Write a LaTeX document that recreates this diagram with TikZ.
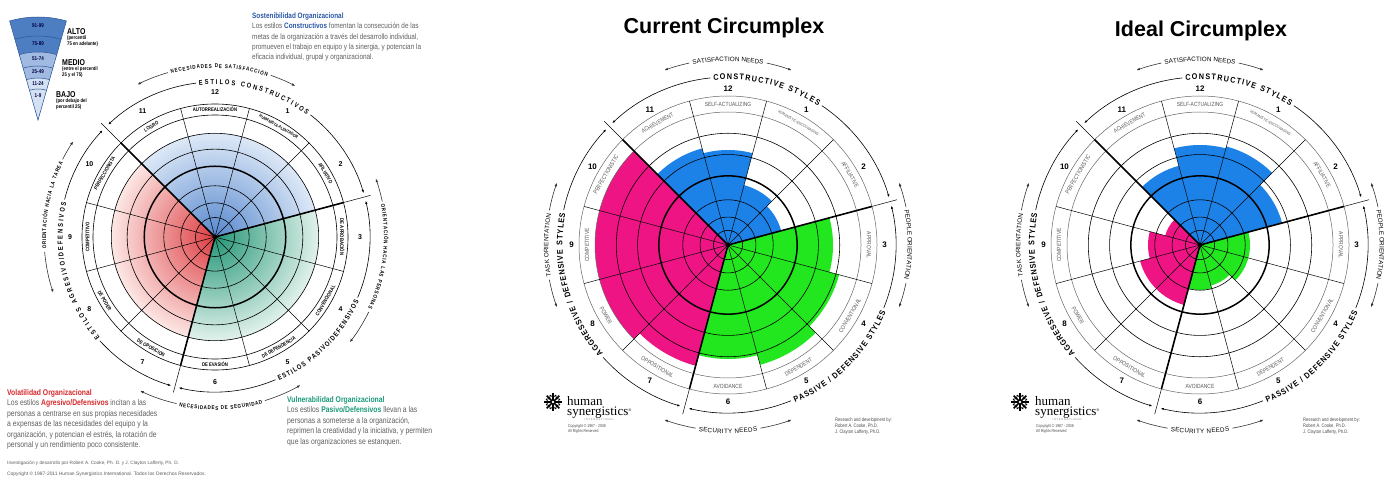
\documentclass[tikz,border=0pt]{standalone}
\usepackage{fontspec}
\setmainfont{Liberation Sans}
\newfontfamily\narrowfont{Liberation Sans}[FakeStretch=0.82]
\newfontfamily\stylefont{Liberation Sans}[FakeStretch=0.88]
\newfontfamily\logofont{Liberation Serif}
\usetikzlibrary{arrows.meta,decorations.text}

\definecolor{curblue}{RGB}{28,130,232}
\definecolor{curgreen}{RGB}{34,230,30}
\definecolor{curpink}{RGB}{238,20,132}
\definecolor{bluein}{RGB}{86,135,205}
\definecolor{blueout}{RGB}{222,233,247}
\definecolor{redin}{RGB}{221,60,66}
\definecolor{redout}{RGB}{252,232,229}
\definecolor{greenin}{RGB}{36,150,118}
\definecolor{greenout}{RGB}{226,242,236}
\definecolor{legdark}{RGB}{78,126,194}
\definecolor{legmid}{RGB}{160,186,226}
\definecolor{leglight}{RGB}{212,225,243}
\definecolor{legline}{RGB}{45,85,150}
\definecolor{sostblue}{RGB}{40,88,168}
\definecolor{volred}{RGB}{214,40,44}
\definecolor{vulgreen}{RGB}{26,154,120}
\definecolor{bodygray}{RGB}{95,95,95}

\tikzset{
  ring/.style={line width=0.6pt},
  midring/.style={line width=1.5pt},
  spoke/.style={line width=0.5pt},
  bigspoke/.style={line width=1.6pt},
  lblring/.style={line width=0.5pt, black!60},
  grouparc/.style={line width=0.6pt, -{Latex[length=3pt,width=2.4pt]}},
  needarc/.style={line width=0.6pt, black!80, -{Latex[length=3.6pt,width=2.6pt]}},
  stylearc/.style={postaction={decorate, decoration={text along path,
      text={|\stylefont\bfseries\fontsize{8.2}{8.2}\selectfont|#1},
      text align=fit to path, raise=-3pt}}},
  needtext/.style={postaction={decorate, decoration={text along path,
      text={|\fontsize{6.3}{7}\selectfont|#1},
      text align=fit to path, raise=-2.3pt}}},
  spstylearc/.style={postaction={decorate, decoration={text along path,
      text={|\narrowfont\bfseries\fontsize{7}{7}\selectfont|#1},
      text align=fit to path, raise=-2.5pt}}},
  spneedtext/.style={postaction={decorate, decoration={text along path,
      text={|\narrowfont\bfseries\fontsize{5.5}{6}\selectfont|#1},
      text align=fit to path, raise=-2pt}}},
  curlbl/.style={font=\narrowfont\fontsize{6}{6}\selectfont, text=black!65, inner sep=0pt},
  splbl/.style={font=\narrowfont\bfseries\fontsize{5.2}{5.2}\selectfont, inner sep=0pt},
  curnum/.style={font=\bfseries\fontsize{8}{8}\selectfont, inner sep=0pt},
  spnum/.style={font=\bfseries\fontsize{7}{7}\selectfont, inner sep=0pt},
  legnum/.style={font=\narrowfont\bfseries\fontsize{5.5}{5.5}\selectfont, text=black!75!blue, inner sep=0pt},
  legtitle/.style={font=\narrowfont\bfseries\fontsize{8.5}{9}\selectfont, inner sep=0pt, anchor=north west},
  legsub/.style={font=\narrowfont\bfseries\fontsize{5.2}{6.5}\selectfont, inner sep=0pt, anchor=north west, align=left},
  block/.style={anchor=north west, align=left, inner sep=0pt, text=bodygray},
  small/.style={font=\narrowfont\fontsize{4.2}{5}\selectfont, text=black!70, inner sep=0pt, align=left, anchor=north west}
}

\begin{document}
\begin{tikzpicture}[x=1pt,y=1pt]
\fill[white] (0,0) rectangle (1394,480);
\useasboundingbox (0,0) rectangle (1394,480);

% ---------- spanish circumplex ----------
\begin{scope}[shift={(215,243)}]
  \begin{scope}
    \clip (0,0) -- (15:104) arc[start angle=15,end angle=135,radius=104] -- cycle;
    \shade[inner color=bluein, outer color=blueout] (0,0) circle[radius=104];
  \end{scope}
  \begin{scope}
    \clip (0,0) -- (135:104) arc[start angle=135,end angle=255,radius=104] -- cycle;
    \shade[inner color=redin, outer color=redout] (0,0) circle[radius=104];
  \end{scope}
  \begin{scope}
    \clip (0,0) -- (255:104) arc[start angle=255,end angle=375,radius=104] -- cycle;
    \shade[inner color=greenin, outer color=greenout] (0,0) circle[radius=104];
  \end{scope}
  \foreach \f in {0.16,0.28,0.42,0.72,0.85}
    \draw[ring] (0,0) circle[radius=\f*122];
  \draw[midring] (0,0) circle[radius=0.58*122];
  \draw[ring] (0,0) circle[radius=122] (0,0) circle[radius=133];
  \foreach \a in {15,45,...,345}
    \draw[spoke] (0,0) -- (\a:133);
  \foreach \a in {15,135,255}
    \draw[bigspoke] (0,0) -- (\a:133);
  \fill (0,0) circle[radius=2.2];
  \foreach \ang/\rot/\lab/\nr in {90/0/AUTORREALIZACIÓN/12,
      60/-30/{\fontsize{4.3}{4.3}\selectfont HUMANISTA-ALENTADOR}/1,
      30/-60/AFILIATIVO/2, 0/-90/DE APROBACIÓN/3, 330/60/CONVENCIONAL/4,
      300/30/DE DEPENDENCIA/5, 270/0/DE EVASIÓN/6, 240/-30/DE OPOSICIÓN/7,
      210/-60/DE PODER/8, 180/90/COMPETITIVO/9, 150/60/PERFECCIONISTA/10,
      120/30/LOGRO/11}
  {
    \node[splbl, rotate=\rot] (sp-l\nr) at (\ang:127.5) {\lab};
    \node[spnum] (sp-n\nr) at (\ang:145) {\nr};
  }
  \foreach \a in {15,135,255}
    \draw[spoke] (\a:133) -- (\a:161);
  % style groups
  \draw[grouparc] (97:155) arc[start angle=97,end angle=133.5,radius=155];
  \draw[grouparc] (52:155) arc[start angle=52,end angle=16.5,radius=155];
  \draw[grouparc] (337:155) arc[start angle=337,end angle=373.5,radius=155];
  \draw[grouparc] (293:155) arc[start angle=293,end angle=256.5,radius=155];
  \draw[grouparc] (166:155) arc[start angle=166,end angle=136.5,radius=155];
  \draw[grouparc] (222:155) arc[start angle=222,end angle=253.5,radius=155];
  \path[spstylearc={ESTILOS CONSTRUCTIVOS}] (96:155) arc[start angle=96,end angle=53,radius=155];
  \path[spstylearc={ESTILOS PASIVO/DEFENSIVOS}] (294:155) arc[start angle=294,end angle=336,radius=155];
  \path[spstylearc={ESTILOS AGRESIVO/DEFENSIVOS}] (221:155) arc[start angle=221,end angle=167,radius=155];
  % needs
  \draw[needarc] (106:171) arc[start angle=106,end angle=117,radius=171];
  \draw[needarc] (71:171) arc[start angle=71,end angle=62,radius=171];
  \path[spneedtext={NECESIDADES DE SATISFACCIÓN}] (105:171) arc[start angle=105,end angle=72,radius=171];
  \draw[needarc] (257:171) arc[start angle=257,end angle=244,radius=171];
  \draw[needarc] (287:171) arc[start angle=287,end angle=300,radius=171];
  \path[spneedtext={NECESIDADES DE SEGURIDAD}] (258:171) arc[start angle=258,end angle=286,radius=171];
  \draw[needarc] (12:171) arc[start angle=12,end angle=20,radius=171];
  \draw[needarc] (-26:171) arc[start angle=-26,end angle=-38,radius=171];
  \path[spneedtext={ORIENTACIÓN HACIA LAS PERSONAS}] (11:171) arc[start angle=11,end angle=-25,radius=171];
  \draw[needarc] (153:171) arc[start angle=153,end angle=146,radius=171];
  \draw[needarc] (185:171) arc[start angle=185,end angle=199,radius=171];
  \path[spneedtext={ORIENTACIÓN HACIA LA TAREA}] (184:171) arc[start angle=184,end angle=154,radius=171];
\end{scope}

% percentile key
\begin{scope}[shift={(38,360)}]
  \fill[legdark] (0,0) -- (74:103) arc[start angle=74,end angle=106,radius=103] -- cycle;
  \fill[legmid] (0,0) -- (74:68) arc[start angle=74,end angle=106,radius=68] -- cycle;
  \fill[leglight] (0,0) -- (74:42) arc[start angle=74,end angle=106,radius=42] -- cycle;
  \foreach \rad in {84,68,54,42,31}
    \draw[legline, line width=0.5pt] (74:\rad) arc[start angle=74,end angle=106,radius=\rad];
  \draw[legline, line width=0.5pt] (0,0) -- (74:103) arc[start angle=74,end angle=106,radius=103] -- cycle;
  \foreach \rad/\lab in {94/91-99,76/75-89,61/51-74,48/25-49,36.5/11-24,24/1-9}
    \node[legnum] (leg\lab) at (90:\rad) {\lab};
\end{scope}
\node[legtitle] (alto) at (67,452) {ALTO};
\node[legsub] (altotxt) at ([yshift=-1pt]alto.south west) {(percentil\\75 en adelante)};
\node[legtitle] (medio) at (62,421) {MEDIO};
\node[legsub] (mediotxt) at ([yshift=-1pt]medio.south west) {(entre el percentil\\25 y el 75)};
\node[legtitle] (bajo) at (56,389) {BAJO};
\node[legsub] (bajotxt) at ([yshift=-1pt]bajo.south west) {(por debajo del\\percentil 25)};

% spanish texts
\node[block, font=\narrowfont\fontsize{7.8}{10.4}\selectfont] (sost) at (252,467.5)
  {{\bfseries\color{sostblue}Sostenibilidad Organizacional}\\
   Los estilos {\bfseries\color{sostblue}Constructivos} fomentan la consecución de las\\
   metas de la organización a través del desarrollo individual,\\
   promueven el trabajo en equipo y la sinergia, y potencian la\\
   eficacia individual, grupal y organizacional.};
\node[block, font=\narrowfont\fontsize{8.3}{10.5}\selectfont] (vol) at (7,91)
  {{\bfseries\color{volred}Volatilidad Organizacional}\\
   Los estilos {\bfseries\color{volred}Agresivo/Defensivos} incitan a las\\
   personas a centrarse en sus propias necesidades\\
   a expensas de las necesidades del equipo y la\\
   organización, y potencian el estrés, la rotación de\\
   personal y un rendimiento poco consistente.};
\node[block, font=\narrowfont\fontsize{8.3}{10.5}\selectfont] (vul) at (287,84)
  {{\bfseries\color{vulgreen}Vulnerabilidad Organizacional}\\
   Los estilos {\bfseries\color{vulgreen}Pasivo/Defensivos} llevan a las\\
   personas a someterse a la organización,\\
   reprimen la creatividad y la iniciativa, y permiten\\
   que las organizaciones se estanquen.};
\node[anchor=base west, inner sep=0pt, font=\fontsize{4.7}{5}\selectfont, text=bodygray] (foot1) at (7,16)
  {Investigación y desarrollo por Robert A. Cooke, Ph. D. y J. Clayton Lafferty, Ph. D.};
\node[anchor=base west, inner sep=0pt, font=\fontsize{4.9}{5}\selectfont, text=bodygray] (foot2) at (7,5)
  {Copyright © 1987-2011 Human Synergistics International. Todos los Derechos Reservados.};

% ---------- current and ideal profiles ----------
\begin{scope}[shift={(728,235)}]
  \foreach \ang/\rad in {120/100,90/95,60/62,30/55}
    \fill[curblue] (0,0) -- (\ang-15:\rad) arc[start angle=\ang-15,end angle=\ang+15,radius=\rad] -- cycle;
  \foreach \ang/\rad in {0/105,330/115,300/124,270/114}
    \fill[curgreen] (0,0) -- (\ang-15:\rad) arc[start angle=\ang-15,end angle=\ang+15,radius=\rad] -- cycle;
  \foreach \ang/\rad in {240/125,210/133,180/133,150/133}
    \fill[curpink] (0,0) -- (\ang-15:\rad) arc[start angle=\ang-15,end angle=\ang+15,radius=\rad] -- cycle;
\end{scope}
\begin{scope}[shift={(1200,235)}]
  \foreach \ang/\rad in {120/82,90/100,60/102,30/85}
    \fill[curblue] (0,0) -- (\ang-15:\rad) arc[start angle=\ang-15,end angle=\ang+15,radius=\rad] -- cycle;
  \foreach \ang/\rad in {0/50,330/50,300/42,270/45}
    \fill[curgreen] (0,0) -- (\ang-15:\rad) arc[start angle=\ang-15,end angle=\ang+15,radius=\rad] -- cycle;
  \foreach \ang/\rad in {240/62,210/62,180/52,150/36}
    \fill[curpink] (0,0) -- (\ang-15:\rad) arc[start angle=\ang-15,end angle=\ang+15,radius=\rad] -- cycle;
\end{scope}

\foreach \cx/\tag in {728/cur,1200/ideal} {
\begin{scope}[shift={(\cx,235)}]
  \foreach \f in {0.11,0.21,0.34,0.68,0.84}
    \draw[ring] (0,0) circle[radius=\f*133];
  \draw[midring] (0,0) circle[radius=0.52*133];
  \draw[lblring] (0,0) circle[radius=133] (0,0) circle[radius=149];
  \foreach \a in {15,45,...,345}
    \draw[spoke] (0,0) -- (\a:149);
  \foreach \a in {15,135,255}
    \draw[bigspoke] (0,0) -- (\a:149);
  \fill (0,0) circle[radius=2.2];
  \foreach \ang/\rot/\lab/\nr in {90/0/SELF-ACTUALIZING/12,
      60/-30/{\fontsize{4}{4}\selectfont HUMANISTIC-ENCOURAGING}/1,
      30/-60/AFFILIATIVE/2, 0/-90/APPROVAL/3, 330/60/CONVENTIONAL/4,
      300/30/DEPENDENT/5, 270/0/AVOIDANCE/6, 240/-30/OPPOSITIONAL/7,
      210/-60/POWER/8, 180/90/COMPETITIVE/9, 150/60/PERFECTIONISTIC/10,
      120/30/ACHIEVEMENT/11}
  {
    \node[curlbl, rotate=\rot] (\tag-l\nr) at (\ang:141) {\lab};
    \node[curnum] (\tag-n\nr) at (\ang:156.5) {\nr};
  }
  \foreach \a in {15,135,255}
    \draw[spoke] (\a:149) -- (\a:175);
  % style groups
  \draw[grouparc] (96:168) arc[start angle=96,end angle=133.5,radius=168];
  \draw[grouparc] (56:168) arc[start angle=56,end angle=16.5,radius=168];
  \draw[grouparc] (338:168) arc[start angle=338,end angle=373.5,radius=168];
  \draw[grouparc] (292:168) arc[start angle=292,end angle=256.5,radius=168];
  \draw[grouparc] (168:168) arc[start angle=168,end angle=136.5,radius=168];
  \draw[grouparc] (222:168) arc[start angle=222,end angle=253.5,radius=168];
  \path[stylearc={CONSTRUCTIVE STYLES}] (95:168.5) arc[start angle=95,end angle=57,radius=168.5];
  \path[stylearc={PASSIVE / DEFENSIVE STYLES}] (293:168.5) arc[start angle=293,end angle=337,radius=168.5];
  \path[stylearc={AGGRESSIVE / DEFENSIVE STYLES}] (221:168.5) arc[start angle=221,end angle=169,radius=168.5];
  % needs
  \draw[needarc] (102:186) arc[start angle=102,end angle=110,radius=186];
  \draw[needarc] (78:186) arc[start angle=78,end angle=70,radius=186];
  \path[needtext={SATISFACTION NEEDS}] (101:186) arc[start angle=101,end angle=79,radius=186];
  \draw[needarc] (260:186) arc[start angle=260,end angle=250,radius=186];
  \draw[needarc] (280:186) arc[start angle=280,end angle=290,radius=186];
  \path[needtext={SECURITY NEEDS}] (261:186) arc[start angle=261,end angle=279,radius=186];
  \draw[needarc] (12:182) arc[start angle=12,end angle=20,radius=182];
  \draw[needarc] (-12:182) arc[start angle=-12,end angle=-20,radius=182];
  \path[needtext={PEOPLE ORIENTATION}] (11:182) arc[start angle=11,end angle=-11,radius=182];
  \draw[needarc] (169:182) arc[start angle=169,end angle=160,radius=182];
  \draw[needarc] (191:182) arc[start angle=191,end angle=200,radius=182];
  \path[needtext={TASK ORIENTATION}] (190:182) arc[start angle=190,end angle=170,radius=182];
\end{scope}
}

\node[anchor=base, inner sep=0pt, font=\bfseries\fontsize{21.5}{22}\selectfont] (curtitle) at (724,446) {Current Circumplex};
\node[anchor=base, inner sep=0pt, font=\bfseries\fontsize{21.5}{22}\selectfont] (idealtitle) at (1201,443) {Ideal Circumplex};

% logos and credits
\foreach \lx/\tx/\rx in {553/567/835,1020/1035/1303} {
  \begin{scope}[shift={(\lx,78)}]
    \foreach \a in {0,45,...,315} {
      \draw[line width=1.6pt] (0,0) -- (\a:9);
      \draw[line width=0.8pt] (\a:5) -- (\a+25:7.5);
      \draw[line width=0.8pt] (\a:5) -- (\a-25:7.5);
    }
    \fill[white] (0,0) circle[radius=1.4];
  \end{scope}
  \node[anchor=base west, inner sep=0pt, font=\logofont\fontsize{13}{13}\selectfont] (human\lx) at (\tx,75) {human};
  \node[anchor=base west, inner sep=0pt, font=\logofont\fontsize{13}{13}\selectfont] (syn\lx) at (\tx,65) {synergistics\raisebox{4pt}{\fontsize{4}{4}\selectfont®}};
  \node[anchor=north, inner sep=0pt, font=\fontsize{2.6}{3}\selectfont, text=black!50] (intl\lx) at ([yshift=-0.5pt]syn\lx.south) {I N T E R N A T I O N A L};
  \node[small] (copy\lx) at (\tx+1,56) {Copyright © 1987 - 2008\\All Rights Reserved};
  \node[small, font=\narrowfont\fontsize{5}{5.6}\selectfont] (res\lx) at (\rx,62) {Research and development by:\\Robert A. Cooke, Ph.D.\\J. Clayton Lafferty, Ph.D.};
}
\end{tikzpicture}
\end{document}
